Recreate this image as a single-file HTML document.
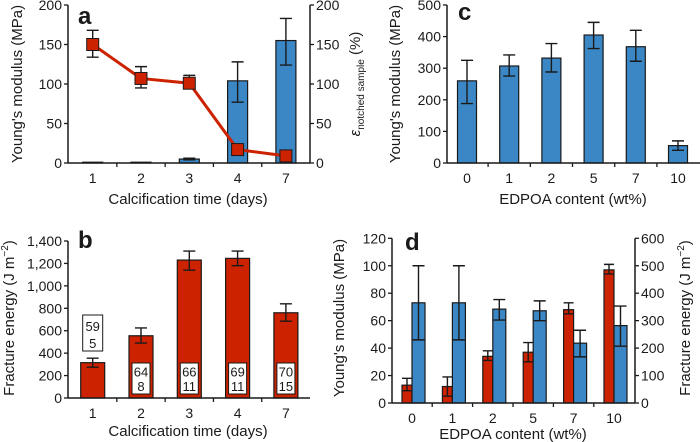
<!DOCTYPE html>
<html><head><meta charset="utf-8">
<style>
body{margin:0;background:#fff;}
svg{display:block;font-family:"Liberation Sans",Arial,sans-serif;}
text{fill:#1a1a1a;}
</style></head>
<body>
<svg id="s" width="700" height="442" viewBox="0 0 700 442"></svg>
<script>
const aCats=["1","2","3","4","7"];
const aBlue=[1,1,5,104,155];
const aBlueLo=[1,1,4,77,124];
const aBlueHi=[1,1,6,128,183];
const aRed=[150,107,101,17,9];
const aRedLo=[134,95,94,13,8];
const aRedHi=[168,122,111,21,10];
const aTicks=[0,50,100,150,200];

const bCats=["1","2","3","4","7"];
const bVals=[315,555,1230,1245,760];
const bLo=[275,490,1140,1180,685];
const bHi=[355,625,1310,1310,840];
const bTicks=[0,200,400,600,800,1000,1200,1400];
const bTickLabels=["0","200","400","600","800","1,000","1,200","1,400"];
const bBox1=["59","64","66","69","70"];
const bBox2=["5","8","11","11","15"];

const cCats=["0","1","2","5","7","10"];
const cVals=[260,307,332,405,368,55];
const cLo=[188,275,288,362,322,40];
const cHi=[325,342,378,445,420,70];
const cTicks=[0,100,200,300,400,500];

const dCats=["0","1","2","5","7","10"];
const dRed=[13,12,34,37,68,97];
const dRedLo=[9,5,31,30,65,94];
const dRedHi=[18,19,38,44,73,101];
const dBlue=[365,365,342,336,218,282];
const dBlueLo=[230,230,302,300,168,207];
const dBlueHi=[500,500,377,372,265,353];
const dLTicks=[0,20,40,60,80,100,120];
const dRTicks=[0,100,200,300,400,500,600];

const BLUE="#3b87c6", RED="#cc2200", INK="#1a1a1a";
const svg=document.getElementById('s');
const NS="http://www.w3.org/2000/svg";
function el(tag,attrs,parent){const e=document.createElementNS(NS,tag);for(const k in attrs)e.setAttribute(k,attrs[k]);(parent||svg).appendChild(e);return e;}
function txt(str,x,y,size,anchor,parent,extra){const t=el('text',Object.assign({x:x,y:y,'font-size':size,'text-anchor':anchor||'middle'},extra||{}),parent);t.textContent=str;return t;}
function lin(v0,v1,p0,p1){return v=>p0+(v-v0)/(v1-v0)*(p1-p0);}

function axisY(g,x,y,ticks,labels,side,name){
  const ax=el('g',{},g);
  
  
  const ys=ticks.map(y);
  el('line',{x1:x,x2:x,y1:Math.max(...ys),y2:Math.min(...ys),stroke:INK,'stroke-width':1.5},ax);
  ticks.forEach((t,i)=>{
    const yy=y(t);
    const d=side==='left'?-4:4;
    el('line',{x1:x,x2:x+d,y1:yy,y2:yy,stroke:INK,'stroke-width':1.3},ax);
    txt(labels[i],side==='left'?x-6:x+6,yy+5,14,side==='left'?'end':'start',ax);
  });
}
function axisX(g,x0,x1,y0,xs,cats,name){
  const ax=el('g',{},g);
  
  
  el('line',{x1:x0,x2:x1,y1:y0,y2:y0,stroke:INK,'stroke-width':1.5},ax);
  const step=xs[1]-xs[0];
  const bounds=[];
  for(let i=0;i<=xs.length;i++)bounds.push(xs[0]-step/2+i*step);
  bounds.forEach(b=>{if(b>x0+1&&b<x1-1)el('line',{x1:b,x2:b,y1:y0,y2:y0+4,stroke:INK,'stroke-width':1.3},ax);});
  cats.forEach((c,i)=>txt(c,xs[i],y0+20,14,'middle',ax));
}
function bar(g,x,w,y,v,color,name){
  const r=el('rect',{x:x,y:y(v),width:w,height:y(0)-y(v),fill:color,stroke:INK,'stroke-width':1.2},g);
  
  
}
function err(g,x,y,lo,hi,cap){
  el('path',{d:`M${x},${y(lo)}V${y(hi)}M${x-cap},${y(lo)}H${x+cap}M${x-cap},${y(hi)}H${x+cap}`,stroke:INK,'stroke-width':1.4,fill:'none'},g);
}

/* Panel a */
(function(){
  const g=el('g',{});
  
  
  const y=lin(0,200,163,5);
  const xs=aCats.map((c,i)=>92.7+i*48.3);
  aBlue.forEach((v,i)=>{bar(g,xs[i]-10,20,y,v,BLUE,'bar-a-'+aCats[i]);if(i>=2)err(g,xs[i],y,aBlueLo[i],aBlueHi[i],6);});
  axisY(g,68,y,aTicks,aTicks.map(String),'left','a-left-axis');
  axisY(g,310,y,aTicks,aTicks.map(String),'right','a-right-axis');
  axisX(g,68,310,163,xs,aCats,'a-x-axis');
  aRed.forEach((v,i)=>err(g,xs[i],y,aRedLo[i],aRedHi[i],6));
  const ln=el('polyline',{points:aRed.map((v,i)=>xs[i]+','+y(v)).join(' '),fill:'none',stroke:RED,'stroke-width':3},g);
  
  
  aRed.forEach((v,i)=>{const m=el('rect',{x:xs[i]-6,y:y(v)-6,width:12,height:12,fill:RED,stroke:INK,'stroke-width':1},g);
    
    });
  txt('a',78,24,24,'start',g,{'font-weight':'bold'});
  txt("Young's modulus (MPa)",22,84,15,'middle',g,{transform:'rotate(-90 22 84)'});
  const t=txt('',360,84,15,'middle',g,{transform:'rotate(-90 360 84)'});
  t.innerHTML='<tspan font-style="italic">ε</tspan><tspan font-size="10" dy="4">notched sample</tspan><tspan dy="-4"> (%)</tspan>';
  txt('Calcification time (days)',188,204,15,'middle',g);
})();

/* Panel b */
(function(){
  const g=el('g',{});
  
  
  const y=lin(0,1400,398,241);
  const xs=bCats.map((c,i)=>92.7+i*48.3);
  bVals.forEach((v,i)=>{bar(g,xs[i]-12,24,y,v,RED,'bar-b-'+bCats[i]);err(g,xs[i],y,bLo[i],bHi[i],6);});
  axisY(g,68,y,bTicks,bTickLabels,'left','b-left-axis');
  axisX(g,68,310,398,xs,bCats,'b-x-axis');
  bBox1.forEach((s,i)=>{
    const bx=i===0?xs[i]-10:xs[i]-9, bw=i===0?20:18;
    const by=i===0?315:363, bh=i===0?36:31;
    el('rect',{x:bx,y:by,width:bw,height:bh,fill:'#fff',stroke:INK,'stroke-width':1},g);
    txt(s,xs[i],by+bh/2-2,13,'middle',g);
    txt(bBox2[i],xs[i],by+bh-3,13,'middle',g);
  });
  txt('b',78,248,24,'start',g,{'font-weight':'bold'});
  const t=txt('',14,318,15,'middle',g,{transform:'rotate(-90 14 318)'});
  t.innerHTML='Fracture energy (J m<tspan font-size="10" dy="-6">−2</tspan><tspan dy="6">)</tspan>';
  txt('Calcification time (days)',188,436,15,'middle',g);
})();

/* Panel c */
(function(){
  const g=el('g',{});
  
  
  const y=lin(0,500,163,5);
  const xs=cCats.map((c,i)=>467+i*42.2);
  cVals.forEach((v,i)=>{bar(g,xs[i]-9.5,19,y,v,BLUE,'bar-c-'+cCats[i]);err(g,xs[i],y,cLo[i],cHi[i],6);});
  axisY(g,447,y,cTicks,cTicks.map(String),'left','c-left-axis');
  axisX(g,447,700,163,xs,cCats,'c-x-axis');
  txt('c',458,20,24,'start',g,{'font-weight':'bold'});
  txt("Young's modulus (MPa)",400,84,15,'middle',g,{transform:'rotate(-90 400 84)'});
  txt('EDPOA content (wt%)',573,204,15,'middle',g);
})();

/* Panel d */
(function(){
  const g=el('g',{});
  
  
  const yl=lin(0,120,403,238.3);
  const yr=lin(0,600,403,238.3);
  const xs=dCats.map((c,i)=>412+i*40.4);
  dRed.forEach((v,i)=>{bar(g,xs[i]-10,10,yl,v,RED,'bar-d-red-'+dCats[i]);err(g,xs[i]-5,yl,dRedLo[i],dRedHi[i],5);});
  dBlue.forEach((v,i)=>{bar(g,xs[i],13,yr,v,BLUE,'bar-d-blue-'+dCats[i]);err(g,xs[i]+6.5,yr,dBlueLo[i],dBlueHi[i],6);});
  axisY(g,392,yl,dLTicks,dLTicks.map(String),'left','d-left-axis');
  axisY(g,635,yr,dRTicks,dRTicks.map(String),'right','d-right-axis');
  axisX(g,392,635,403,xs,dCats,'d-x-axis');
  txt('d',405,250,24,'start',g,{'font-weight':'bold'});
  txt("Young's modulus (MPa)",344,318,15,'middle',g,{transform:'rotate(-90 344 318)'});
  const t=txt('',690,318,15,'middle',g,{transform:'rotate(-90 690 318)'});
  t.innerHTML='Fracture energy (J m<tspan font-size="10" dy="-6">−2</tspan><tspan dy="6">)</tspan>';
  txt('EDPOA content (wt%)',513,439,15,'middle',g);
})();
</script>
</body></html>
